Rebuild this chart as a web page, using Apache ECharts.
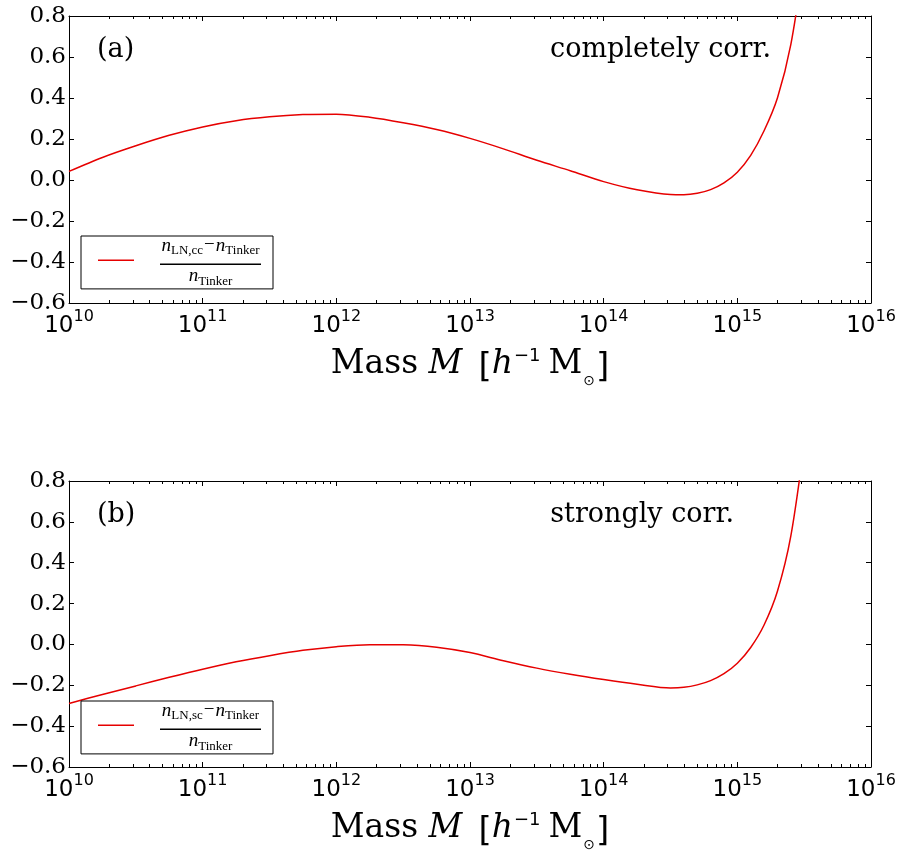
<!DOCTYPE html>
<html><head><meta charset="utf-8">
<script src="https://cdn.jsdelivr.net/npm/echarts@6/dist/echarts.min.js"></script>
<style>html,body{margin:0;padding:0;background:#fff}#c{width:900px;height:854px}</style>
</head><body><div id="c"></div>
<script>
// log10 of mass and fractional difference
const massExpA = [10.0, 10.25, 10.5, 10.75, 11.0, 11.25, 11.5, 11.75, 12.0, 12.25, 12.5, 12.75, 13.0, 13.25, 13.5, 13.75, 14.0, 14.25, 14.5, 14.6, 14.7, 14.8, 14.9, 15.0, 15.1, 15.2, 15.3, 15.4, 15.5];
const ratioA   = [0.042, 0.11, 0.167, 0.218, 0.259, 0.289, 0.308, 0.319, 0.321, 0.306, 0.279, 0.246, 0.203, 0.152, 0.096, 0.045, -0.008, -0.048, -0.071, -0.072, -0.065, -0.047, -0.014, 0.038, 0.12, 0.24, 0.40, 0.66, 1.08];
const massExpB = [10.0, 10.25, 10.5, 10.75, 11.0, 11.25, 11.5, 11.75, 12.0, 12.25, 12.5, 12.75, 13.0, 13.25, 13.5, 13.75, 14.0, 14.25, 14.5, 14.6, 14.7, 14.8, 14.9, 15.0, 15.1, 15.2, 15.3, 15.4, 15.5];
const ratioB   = [-0.289, -0.245, -0.203, -0.161, -0.121, -0.085, -0.055, -0.029, -0.011, -0.001, -0.002, -0.014, -0.04, -0.08, -0.116, -0.146, -0.172, -0.195, -0.213, -0.21, -0.198, -0.177, -0.143, -0.092, -0.015, 0.095, 0.26, 0.53, 0.98];
const xTickExps = [10, 11, 12, 13, 14, 15, 16];
const yTicks = [-0.6, -0.4, -0.2, 0.0, 0.2, 0.4, 0.6, 0.8];
const panelLabels = ['(a)', '(b)'];
const panelNotes = ['completely corr.', 'strongly corr.'];
const seriesNames = ['LN,cc', 'LN,sc'];

const chart = echarts.init(document.getElementById('c'), null, {renderer: 'canvas'});

const majorVals = xTickExps.map(e => Math.pow(10, e));
const minorVals = [];
for (let i = 0; i < xTickExps.length - 1; i++) {
  for (let k = 2; k <= 9; k++) minorVals.push(k * Math.pow(10, xTickExps[i]));
}

const gridTops = [16, 481];
const gridH = 287;
const grids = gridTops.map(t => ({left: 69, width: 802, top: t, height: gridH, show: false}));

const tickFont = 'DejaVu Sans';
const serif = 'DejaVu Serif';
const RED = '#e60000';
const xAxes = [], yAxes = [];
const baseX = {type: 'log', logBase: 10, min: majorVals[0], max: majorVals[majorVals.length - 1], splitLine: {show: false}};

const nameRich = {
  t: {fontFamily: serif, fontSize: 33, color: '#000', lineHeight: 50, verticalAlign: 'middle'},
  i: {fontFamily: serif, fontStyle: 'italic', fontSize: 33, color: '#000', lineHeight: 50, verticalAlign: 'middle'},
  sp: {width: 16, lineHeight: 50, fontSize: 10},
  sp2: {width: 8, lineHeight: 50, fontSize: 10},
  br: {fontFamily: tickFont, fontSize: 34, color: '#000', lineHeight: 50, verticalAlign: 'middle', padding: [9, 0, 0, 0]},
  sup: {fontFamily: tickFont, fontSize: 18, color: '#000', lineHeight: 50, verticalAlign: 'top', padding: [8, 0, 0, 1]},
  sub: {fontFamily: tickFont, fontSize: 14, color: '#000', lineHeight: 50, verticalAlign: 'bottom', padding: [0, 1, 1, 1]}
};
const axisName = '{t|Mass }{i|M}{sp| }{br|[}{i|h}{sup|\u22121}{sp2| }{t|M}{sub|\u2299}{br|]}';

gridTops.forEach((t, g) => {
  xAxes.push(Object.assign({}, baseX, {
    gridIndex: g, position: 'bottom',
    axisLine: {show: true, onZero: false, lineStyle: {color: '#000', width: 1}},
    axisTick: {show: true, inside: true, length: 5, lineStyle: {color: '#000'}, customValues: majorVals},
    axisLabel: {show: true, customValues: majorVals, margin: 6,
      formatter: v => '{b|10}{e|' + Math.round(Math.log10(v)) + '}',
      rich: {
        b: {fontFamily: tickFont, fontSize: 23, color: '#000', lineHeight: 29, verticalAlign: 'bottom'},
        e: {fontFamily: tickFont, fontSize: 16, color: '#000', lineHeight: 29, verticalAlign: 'top'}
      }},
    name: axisName, nameLocation: 'middle', nameGap: 36, nameMoveOverlap: false,
    nameTextStyle: {rich: nameRich}
  }));
  xAxes.push(Object.assign({}, baseX, {
    gridIndex: g, position: 'bottom', axisLine: {show: false, onZero: false},
    axisTick: {show: true, inside: true, length: 3, lineStyle: {color: '#000'}, customValues: minorVals},
    axisLabel: {show: false}
  }));
  xAxes.push(Object.assign({}, baseX, {
    gridIndex: g, position: 'top',
    axisLine: {show: true, onZero: false, lineStyle: {color: '#000', width: 1}},
    axisTick: {show: true, inside: true, length: 5, lineStyle: {color: '#000'}, customValues: majorVals},
    axisLabel: {show: false}
  }));
  xAxes.push(Object.assign({}, baseX, {
    gridIndex: g, position: 'top', axisLine: {show: false, onZero: false},
    axisTick: {show: true, inside: true, length: 3, lineStyle: {color: '#000'}, customValues: minorVals},
    axisLabel: {show: false}
  }));
  const baseY = {type: 'value', gridIndex: g, min: yTicks[0], max: yTicks[yTicks.length - 1], interval: 0.2, splitLine: {show: false},
    axisLine: {show: true, onZero: false, lineStyle: {color: '#000', width: 1}},
    axisTick: {show: true, inside: true, length: 5, lineStyle: {color: '#000'}}};
  yAxes.push(Object.assign({}, baseY, {position: 'left',
    axisLabel: {show: true, margin: 3, fontFamily: serif, fontSize: 23, color: '#000',
      formatter: v => { const s = (Math.abs(v) < 1e-9 ? 0 : v).toFixed(1); return s.replace('-', '\u2212'); }}}));
  yAxes.push(Object.assign({}, baseY, {position: 'right', axisLabel: {show: false}}));
});

const seriesData = [
  massExpA.map((e, i) => [Math.pow(10, e), ratioA[i]]),
  massExpB.map((e, i) => [Math.pow(10, e), ratioB[i]])
];

const series = seriesData.map((d, g) => ({
  name: seriesNames[g], type: 'line', xAxisIndex: g * 4, yAxisIndex: g * 2,
  data: d, symbol: 'none', smooth: 0.3, clip: true,
  lineStyle: {color: RED, width: 1.5}, itemStyle: {color: RED},
  emphasis: {disabled: true}, silent: true, animation: false
}));

const legendRich = {
  n: {fontFamily: 'Liberation Serif', fontStyle: 'italic', fontSize: 19, color: '#000', verticalAlign: 'bottom', padding: [0, 0, 2.5, 0], align: 'center'},
  s: {fontFamily: 'Liberation Serif', fontSize: 13, color: '#000', verticalAlign: 'bottom', align: 'center'},
  op: {fontFamily: 'Liberation Serif', fontSize: 19, color: '#000', verticalAlign: 'bottom', padding: [0, 1, 2.5, 1], align: 'center'},
  bar: {width: 101, height: 1.4, backgroundColor: '#000', lineHeight: 13.4, align: 'center'},
  n1: {fontFamily: 'Liberation Serif', fontStyle: 'italic', fontSize: 19, color: '#000', verticalAlign: 'bottom', padding: [0, 0, 2.5, 0], align: 'center', lineHeight: 25},
  n2: {fontFamily: 'Liberation Serif', fontStyle: 'italic', fontSize: 19, color: '#000', verticalAlign: 'bottom', padding: [0, 0, 2.5, 0], align: 'center', lineHeight: 17}
};
const legends = seriesNames.map((nm, g) => ({
  data: [nm], left: 81, top: gridTops[g] + 220, orient: 'vertical',
  borderColor: '#000', borderWidth: 1, padding: [0, 12, 1, 17],
  icon: 'rect', itemWidth: 36, itemHeight: 1.5, selectedMode: false,
  itemStyle: {color: RED},
  textStyle: {padding: [0, 0, 0, 21], rich: legendRich},
  formatter: name => '{n1|n}{s|' + name + '}{op|\u2212}{n|n}{s|Tinker}\n{bar| }\n{n2|n}{s|Tinker}'
}));

const graphic = [];
gridTops.forEach((t, g) => {
  graphic.push({type: 'text', x: 97, y: t + 34, style: {text: panelLabels[g], fontFamily: serif, fontSize: 27, fill: '#000', align: 'left', verticalAlign: 'middle'}});
  graphic.push({type: 'text', x: g === 0 ? 771 : 734, y: t + 34, style: {text: panelNotes[g], fontFamily: serif, fontSize: 27, fill: '#000', align: 'right', verticalAlign: 'middle'}});
});

chart.setOption({
  animation: false,
  backgroundColor: '#fff',
  grid: grids,
  xAxis: xAxes,
  yAxis: yAxes,
  legend: legends,
  series: series,
  graphic: graphic
});
</script></body></html>
